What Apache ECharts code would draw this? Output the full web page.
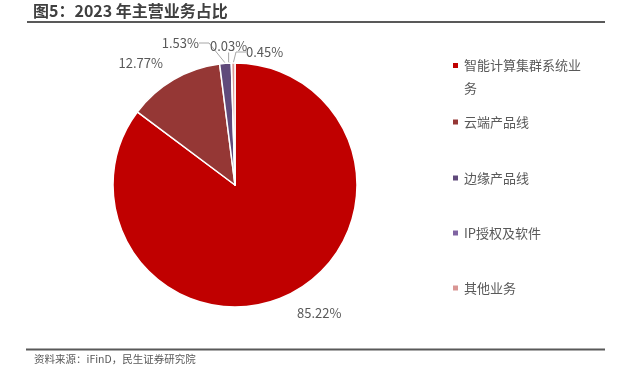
<!DOCTYPE html>
<html>
<head>
<meta charset="utf-8">
<script src="https://cdn.jsdelivr.net/npm/echarts@6/dist/echarts.min.js"></script>
<style>
  html, body { margin: 0; padding: 0; background: #fff; }
  #chart { width: 617px; height: 377px; }
</style>
</head>
<body>
<div id="chart"></div>
<script>
// data
const categories = ['智能计算集群系统业务', '云端产品线', '边缘产品线', 'IP授权及软件', '其他业务'];
const shares = [85.22, 12.77, 1.53, 0.03, 0.45];
const colors = ['#C00000', '#953735', '#604A7B', '#8064A2', '#D99694'];

const font = '"Noto Sans CJK SC", "Microsoft YaHei", sans-serif';
const textGray = '#595959';

// where each slice label sits (px), picked to match the report layout
const labelSpots = [
  { x: 297, y: 313, align: 'left' },
  { x: 163, y: 63, align: 'right' },
  { x: 199, y: 43, align: 'right' },
  { x: 210, y: 46, align: 'left' },
  { x: 246, y: 52, align: 'left' }
];

const chart = echarts.init(document.getElementById('chart'), null, { renderer: 'canvas' });

// one legend per item so the spacing matches the original
// first one wraps; a leading blank line keeps the icon on the first text line
const legendTops = [31, 113, 169, 224, 279];
const legends = categories.map((name, i) => {
  const first = i === 0;
  return {
    data: [name],
    orient: 'vertical',
    left: 451,
    top: legendTops[i],
    padding: 0,
    icon: 'rect',
    itemWidth: 7,
    itemHeight: 7,
    selectedMode: false,
    formatter: first ? '\n智能计算集群系统业\n务' : '{name}',
    textStyle: {
      fontFamily: font,
      fontSize: 13,
      color: textGray,
      lineHeight: first ? 23 : 18
    }
  };
});

const option = {
  animation: false,
  color: colors,
  title: {
    text: '图5：2023 年主营业务占比',
    left: 33,
    top: 3,
    padding: 0,
    textStyle: { fontFamily: font, fontSize: 16, fontWeight: 'bold', color: '#404040' }
  },
  legend: legends,
  graphic: [
    { type: 'line', shape: { x1: 27, y1: 22, x2: 605, y2: 22 }, style: { stroke: '#595959', lineWidth: 2 } },
    { type: 'line', shape: { x1: 26, y1: 349.5, x2: 605, y2: 349.5 }, style: { stroke: '#595959', lineWidth: 2 } },
    {
      type: 'text', left: 34, top: 354,
      style: { text: '资料来源：iFinD，民生证券研究院', fontFamily: font, fontSize: 10.5, fill: textGray }
    }
  ],
  series: [{
    type: 'pie',
    center: [235, 185],
    radius: [0, 122],
    startAngle: 90,
    clockwise: true,
    avoidLabelOverlap: false,
    itemStyle: { borderColor: '#fff', borderWidth: 1.5 },
    label: {
      show: true,
      position: 'outside',
      formatter: p => p.value.toFixed(2) + '%',
      fontFamily: font,
      fontSize: 13,
      color: textGray
    },
    labelLine: { show: true, length: 12, length2: 10, lineStyle: { color: '#A6A6A6', width: 1 } },
    labelLayout: p => {
      const s = labelSpots[p.dataIndex];
      return { x: s.x, y: s.y, align: s.align, verticalAlign: 'middle' };
    },
    emphasis: { disabled: true },
    data: categories.map((name, i) => ({
      name: name,
      value: shares[i],
      labelLine: { show: i >= 2 }
    }))
  }]
};

chart.setOption(option);
</script>
</body>
</html>
